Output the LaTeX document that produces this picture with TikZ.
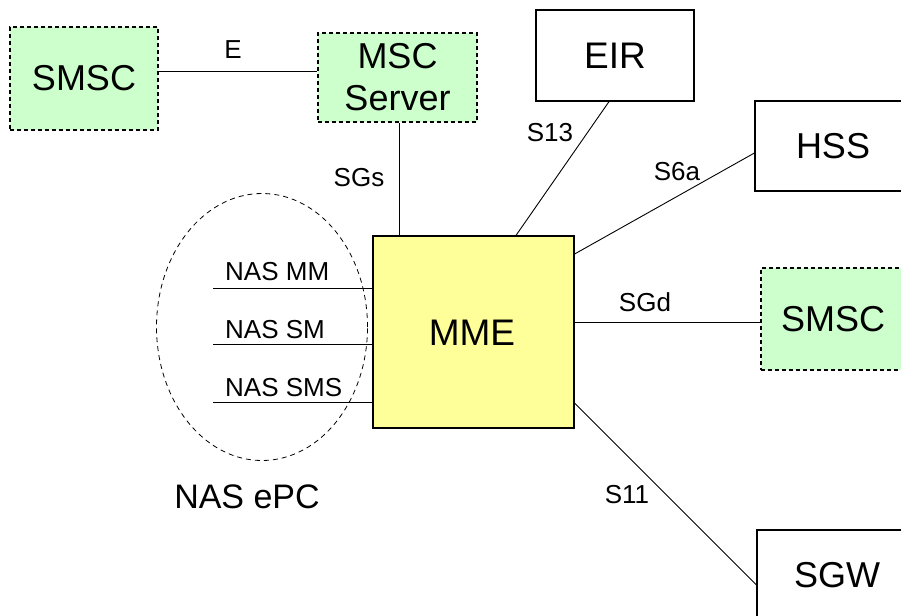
\documentclass[tikz,border=0pt]{standalone}
\usepackage{fontspec}
\setmainfont{Liberation Sans}
\usetikzlibrary{shapes.geometric}
\definecolor{boxgreen}{HTML}{CCFFCC}
\definecolor{boxyellow}{HTML}{FFFF99}
\tikzset{
  plainbox/.style={draw=black, line width=1.2pt, rectangle, inner sep=0pt, font=\fontsize{36}{42}\selectfont},
  greenbox/.style={plainbox, fill=boxgreen, dash pattern=on 4pt off 3pt},
  mmebox/.style={plainbox, fill=boxyellow},
  link/.style={draw=black, line width=0.9pt},
  lbl/.style={inner sep=0pt, font=\fontsize{26}{28}\selectfont},
}
\begin{document}
\begin{tikzpicture}[x=1pt, y=-1pt]
\useasboundingbox (0,0) rectangle (901,615);
\clip (0,0) rectangle (901,615);
\fill[white] (0,0) rectangle (901,615);

% boxes
\node[greenbox, minimum width=148pt, minimum height=103pt] (smsca) at (84,78.5) {SMSC};
\node[greenbox, minimum width=159pt, minimum height=89pt, align=center] (msc) at (397.5,77.5) {MSC\\Server};
\node[plainbox, minimum width=158pt, minimum height=91pt, font=\fontsize{37}{40}\selectfont] (eir) at (615,55.5) {EIR};
\node[plainbox, minimum width=156pt, minimum height=90pt] (hss) at (833,146) {HSS};
\node[greenbox, minimum width=144pt, minimum height=102pt] (smscb) at (833,319) {SMSC};
\node[mmebox, minimum width=201pt, minimum height=192pt] (mme) at (473.5,332) {};
\node[font=\fontsize{37}{39}\selectfont, inner sep=0pt] (mmetext) at (472,333) {MME};
\node[plainbox, minimum width=160pt, minimum height=90pt] (sgw) at (837,575) {SGW};

% ellipse
\node[ellipse, draw=black, line width=0.8pt, dash pattern=on 5pt off 4pt, minimum width=211pt, minimum height=267pt, inner sep=0pt] (nasell) at (262,327) {};
\node[inner sep=0pt, font=\fontsize{34}{36}\selectfont] (nasepc) at (247,497) {NAS ePC};

% connectors
\draw[link] ([yshift=7.5pt]smsca.east) -- ([yshift=6.5pt]msc.west);
\node[lbl] (le) at (233,50) {E};
\draw[link] ([xshift=1.5pt]msc.south) -- ([xshift=1.5pt]msc.south |- mme.north);
\node[lbl] (lsgs) at (359,178) {SGs};
\draw[link] ([xshift=-6pt]eir.south) -- ([xshift=42.5pt]mme.north);
\node[lbl] (ls13) at (550,133) {S13};
\draw[link] ([yshift=78pt]mme.east) -- ([yshift=-7pt]hss.west);
\node[lbl] (ls6a) at (677,172) {S6a};
\draw[link] ([yshift=10pt]mme.east) -- ([yshift=-3pt]smscb.west);
\node[lbl] (lsgd) at (645,302) {SGd};
\draw[link] ([yshift=-71pt]mme.east) -- ([yshift=-10pt]sgw.west);
\node[lbl] (ls11) at (627,495) {S11};

% NAS lines
\coordinate (n1) at (213,288);
\coordinate (n2) at (213,344);
\coordinate (n3) at (213,402);
\draw[link] (n1) -- (n1 -| mme.west);
\draw[link] (n2) -- (n2 -| mme.west);
\draw[link] (n3) -- (n3 -| mme.west);
\node[lbl, anchor=west] (lmm) at (225,272) {NAS MM};
\node[lbl, anchor=west] (lsm) at (225,330) {NAS SM};
\node[lbl, anchor=west] (lsms) at (225,388) {NAS SMS};
\end{tikzpicture}
\end{document}
